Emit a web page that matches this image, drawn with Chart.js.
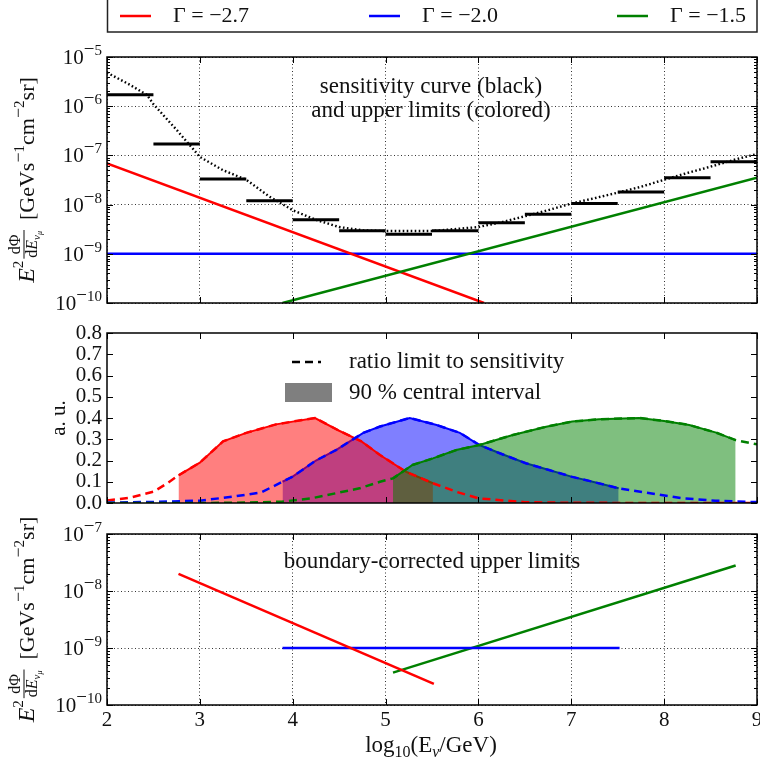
<!DOCTYPE html>
<html><head><meta charset="utf-8">
<script src="https://cdn.jsdelivr.net/npm/chart.js@4.4.1/dist/chart.umd.min.js"></script>
<style>
html,body{margin:0;padding:0;background:#fff;}
#wrap{position:relative;width:760px;height:765px;overflow:hidden;background:#fff;}
#wrap canvas{position:absolute;left:0;top:0;}
</style></head><body>
<div id="wrap">
<canvas id="c1" width="760" height="765" style="width:760px;height:765px"></canvas>
<canvas id="c2" width="760" height="765" style="width:760px;height:765px"></canvas>
<canvas id="c3" width="760" height="765" style="width:760px;height:765px"></canvas>
</div>
<script>
// ---------------- data ----------------
const xTickValues = [2, 3, 4, 5, 6, 7, 8, 9];
const fluxTicksTop = [1e-10, 1e-9, 1e-8, 1e-7, 1e-6, 1e-5];
const fluxTicksBottom = [1e-10, 1e-9, 1e-8, 1e-7];
const auTicks = [0, 0.1, 0.2, 0.3, 0.4, 0.5, 0.6, 0.7, 0.8];

const seriesNames = ['Γ = −2.7', 'Γ = −2.0', 'Γ = −1.5'];
const seriesColors = ['#ff0000', '#0000ff', '#008000'];
const seriesFills = ['rgba(255,0,0,0.5)', 'rgba(0,0,255,0.5)', 'rgba(0,128,0,0.5)'];

// panel 1: binned sensitivity (black steps) and sensitivity curve (dotted)
const binEdges = [2, 2.5, 3, 3.5, 4, 4.5, 5, 5.5, 6, 6.5, 7, 7.5, 8, 8.5, 9];
const binSensitivity = [1.7e-6, 1.7e-7, 3.3e-8, 1.2e-8, 4.9e-9, 2.95e-9, 2.5e-9, 2.95e-9, 4.3e-9, 6.4e-9, 1.05e-8, 1.8e-8, 3.5e-8, 7.4e-8];
const sensCurveX = [2, 2.25, 2.43, 2.5, 2.75, 3, 3.25, 3.5, 3.75, 4, 4.25, 4.5, 4.75, 5, 5.5, 6, 6.25, 6.5, 6.75, 7, 7.25, 7.5, 7.75, 8, 8.25, 8.5, 8.75, 9];
const sensCurveY = [4.8e-6, 2.7e-6, 1.7e-6, 1.1e-6, 3.3e-7, 9.3e-8, 5.0e-8, 3.2e-8, 1.45e-8, 7.7e-9, 4.9e-9, 3.5e-9, 3.0e-9, 2.9e-9, 2.9e-9, 3.5e-9, 4.4e-9, 5.8e-9, 7.7e-9, 1.05e-8, 1.35e-8, 1.75e-8, 2.3e-8, 3.2e-8, 4.4e-8, 5.9e-8, 8.1e-8, 1.07e-7];

// panel 1: upper limits
const ulRedX = [2, 6.06],   ulRedY = [6.9e-8, 1e-10];
const ulBlueX = [2, 9],     ulBlueY = [1e-9, 1e-9];
const ulGreenX = [3.89, 9], ulGreenY = [1e-10, 3.5e-8];

// panel 2: ratio limit to sensitivity
const ratioRedX = [2, 2.25, 2.5, 2.64, 2.77, 3, 3.25, 3.5, 3.82, 4, 4.24, 4.5, 4.74, 4.94, 5.22, 5.51, 5.76, 6, 6.5, 7, 8, 9];
const ratioRedY = [0.012, 0.025, 0.053, 0.09, 0.13, 0.19, 0.29, 0.33, 0.37, 0.383, 0.40, 0.34, 0.29, 0.226, 0.147, 0.093, 0.053, 0.022, 0.004, 0.001, 0, 0];
const ratioBlueX = [2, 2.5, 3, 3.36, 3.66, 3.89, 4, 4.25, 4.47, 4.76, 4.94, 5.26, 5.55, 5.8, 6.01, 6.23, 6.51, 6.76, 7.0, 7.23, 7.51, 7.8, 8.2, 8.55, 8.9, 9];
const ratioBlueY = [0.002, 0.005, 0.011, 0.03, 0.05, 0.1, 0.124, 0.2, 0.25, 0.33, 0.36, 0.40, 0.367, 0.33, 0.273, 0.234, 0.187, 0.155, 0.124, 0.1, 0.069, 0.049, 0.022, 0.011, 0.005, 0.005];
const ratioGreenX = [2, 3, 3.5, 3.88, 4.2, 4.72, 4.94, 5.08, 5.29, 5.51, 5.76, 6.01, 6.37, 6.73, 7.01, 7.3, 7.73, 8.0, 8.27, 8.56, 8.77, 9];
const ratioGreenY = [0, 0, 0.002, 0.006, 0.022, 0.069, 0.1, 0.116, 0.179, 0.21, 0.249, 0.273, 0.32, 0.359, 0.383, 0.394, 0.40, 0.386, 0.367, 0.331, 0.296, 0.276];
// 90 % central intervals (log10 E)
const intervalLo = [2.77, 3.89, 5.08];
const intervalHi = [5.51, 7.51, 8.77];

// panel 3: boundary-corrected upper limits
const bcRedX = [2.77, 5.52],   bcRedY = [2.0e-8, 2.35e-10];
const bcBlueX = [3.89, 7.52],  bcBlueY = [1e-9, 1e-9];
const bcGreenX = [5.08, 8.77], bcGreenY = [3.7e-10, 2.8e-8];

// ---------------- helpers ----------------
const FONT = '"Liberation Serif", "Times New Roman", serif';
const TXT = '#111';
const pts = (xs, ys) => xs.map((x, i) => ({x: x, y: ys[i]}));

function setFont(ctx, s) { ctx.font = (s.italic ? 'italic ' : '') + s.size + 'px ' + FONT; }
function segsWidth(ctx, segs) {
  let w = 0;
  for (const s of segs) {
    if (s.gap) { w += s.gap; continue; }
    if (s.frac) { w += Math.max(segsWidth(ctx, s.num), segsWidth(ctx, s.den)) + 2; continue; }
    setFont(ctx, s); w += ctx.measureText(s.t).width;
  }
  return w;
}
function drawSegs(ctx, segs, x0, y0) {
  let x = x0;
  for (const s of segs) {
    if (s.gap) { x += s.gap; continue; }
    if (s.frac) {
      const wn = segsWidth(ctx, s.num), wd = segsWidth(ctx, s.den), w = Math.max(wn, wd) + 2;
      drawSegs(ctx, s.num, x + (w - wn) / 2, y0 + s.numDy);
      drawSegs(ctx, s.den, x + (w - wd) / 2, y0 + s.denDy);
      ctx.fillRect(x, y0 + s.barDy - 0.5, w, 1);
      x += w; continue;
    }
    setFont(ctx, s); ctx.fillText(s.t, x, y0 + (s.dy || 0));
    x += ctx.measureText(s.t).width;
  }
}
// align: 'center' | 'right'
function drawRich(ctx, segs, cx, by, rotate, align) {
  ctx.save();
  ctx.fillStyle = TXT; ctx.textAlign = 'left'; ctx.textBaseline = 'alphabetic';
  ctx.translate(cx, by);
  if (rotate) ctx.rotate(-Math.PI / 2);
  const w = segsWidth(ctx, segs);
  drawSegs(ctx, segs, align === 'right' ? -w : -w / 2, 0);
  ctx.restore();
}
function powSegs(v) {
  const e = Math.round(Math.log10(v));
  const segs = [{t: '10', size: 21}];
  if (e < 0) segs.push({t: '−', size: 19, dy: -9});
  segs.push({t: String(Math.abs(e)), size: 15, dy: -9});
  return segs;
}
const fluxLabelSegs = [
  {t: 'E', size: 24, italic: true},
  {t: '2', size: 15, dy: -11},
  {gap: 2},
  {frac: true, num: [{t: 'dΦ', size: 16}],
   den: [{t: 'd', size: 16}, {t: 'E', size: 16, italic: true}, {t: 'ν', size: 11, italic: true, dy: 3}, {t: 'μ', size: 8, italic: true, dy: 5}],
   barDy: -10, numDy: -14, denDy: 3},
  {gap: 10},
  {t: '[GeVs', size: 22}, {t: '−', size: 18, dy: -10}, {t: '1', size: 15, dy: -10},
  {t: 'cm', size: 22}, {t: '−', size: 18, dy: -10}, {t: '2', size: 15, dy: -10},
  {t: 'sr]', size: 22}
];
const xTitleSegs = [
  {t: 'log', size: 23}, {t: '10', size: 16, dy: 5}, {t: '(E', size: 23},
  {t: 'ν', size: 16, italic: true, dy: 5}, {t: '/GeV)', size: 23}
];

function framePlugin(yMajor, logY) {
  return {
    id: 'frameTicks',
    afterDraw(chart) {
      const {ctx, chartArea: a, scales} = chart;
      const sx = scales.x, sy = scales.y;
      ctx.save();
      ctx.strokeStyle = '#000'; ctx.lineWidth = 1;
      ctx.beginPath();
      const L = 6, m = 3;
      xTickValues.forEach(v => {
        const p = Math.round(sx.getPixelForValue(v)) + 0.5;
        ctx.moveTo(p, a.bottom); ctx.lineTo(p, a.bottom - L);
        ctx.moveTo(p, a.top); ctx.lineTo(p, a.top + L);
      });
      yMajor.forEach(v => {
        const p = Math.round(sy.getPixelForValue(v)) + 0.5;
        ctx.moveTo(a.left, p); ctx.lineTo(a.left + L, p);
        ctx.moveTo(a.right, p); ctx.lineTo(a.right - L, p);
      });
      if (logY) {
        for (let i = 0; i < yMajor.length - 1; i++) {
          for (let k = 2; k <= 9; k++) {
            const p = Math.round(sy.getPixelForValue(yMajor[i] * k)) + 0.5;
            ctx.moveTo(a.left, p); ctx.lineTo(a.left + m, p);
            ctx.moveTo(a.right, p); ctx.lineTo(a.right - m, p);
          }
        }
        // power-of-ten tick labels placed by the y scale
        yMajor.forEach(v => {
          drawRich(ctx, powSegs(v), a.left - 5, sy.getPixelForValue(v) + 7, false, 'right');
        });
      }
      ctx.stroke();
      ctx.lineWidth = 1.5;
      ctx.strokeRect(a.left, a.top, a.right - a.left, a.bottom - a.top);
      ctx.restore();
    }
  };
}

function baseOptions(padding, showXTicks, grid, yScale) {
  return {
    responsive: false, animation: false, devicePixelRatio: 1, events: [],
    layout: {padding: padding},
    plugins: {legend: {display: false}, tooltip: {enabled: false}},
    elements: {point: {radius: 0}, line: {tension: 0}},
    scales: {
      x: {
        type: 'linear', min: 2, max: 9,
        afterBuildTicks: s => { s.ticks = xTickValues.map(v => ({value: v})); },
        afterFit: s => { s.height = showXTicks ? 30 : 0; s.paddingLeft = 0; s.paddingRight = 0; },
        ticks: {display: showXTicks, autoSkip: false, maxRotation: 0, padding: 3, color: TXT,
                font: {family: FONT, size: 21}},
        grid: {display: grid, drawTicks: false, color: '#000', lineWidth: 0.8},
        border: {display: false, dash: [1, 2.5]}
      },
      y: Object.assign({
        afterFit: s => { s.width = 107; s.paddingTop = 0; s.paddingBottom = 0; },
        grid: {display: grid, drawTicks: false, color: '#000', lineWidth: 0.8},
        border: {display: false, dash: [1, 2.5]}
      }, yScale)
    }
  };
}
function logY(min, max, ticks) {
  return {
    type: 'logarithmic', min: min, max: max,
    afterBuildTicks: s => { s.ticks = ticks.map(v => ({value: v, major: true})); },
    ticks: {display: false, autoSkip: false}
  };
}
const line = (data, color, width, extra) => Object.assign({
  data: data, borderColor: color, borderWidth: width, pointRadius: 0, fill: false,
  borderCapStyle: 'butt', spanGaps: false
}, extra || {});

// ---------------- chart 1 ----------------
const binData = [];
for (let i = 0; i < binSensitivity.length; i++) {
  binData.push({x: binEdges[i], y: binSensitivity[i]}, {x: binEdges[i + 1], y: binSensitivity[i]}, {x: binEdges[i + 1], y: null});
}
new Chart(document.getElementById('c1'), {
  type: 'line',
  data: {datasets: [
    line(pts(ulRedX, ulRedY), seriesColors[0], 2.5, {label: seriesNames[0], order: 1}),
    line(pts(ulBlueX, ulBlueY), seriesColors[1], 2.5, {label: seriesNames[1], order: 2}),
    line(pts(ulGreenX, ulGreenY), seriesColors[2], 2.5, {label: seriesNames[2], order: 0}),
    line(binData, '#000', 3, {label: 'binned sensitivity', order: 3}),
    line(pts(sensCurveX, sensCurveY), '#000', 2.4, {label: 'sensitivity curve', borderDash: [1.6, 2.4], order: 4})
  ]},
  options: baseOptions({left: 0, right: 3, top: 57, bottom: 462}, false, true, logY(1e-10, 1e-5, fluxTicksTop)),
  plugins: [framePlugin(fluxTicksTop, true), {
    id: 'texts1',
    afterDraw(chart) {
      const ctx = chart.ctx;
      ctx.save();
      // top legend box
      ctx.strokeStyle = '#222'; ctx.lineWidth = 1.5;
      ctx.strokeRect(107.5, -3, 649.5, 35);
      const lx = [120, 369, 617];
      ctx.font = '22px ' + FONT; ctx.fillStyle = TXT; ctx.textBaseline = 'middle'; ctx.textAlign = 'left';
      seriesNames.forEach((n, i) => {
        ctx.strokeStyle = seriesColors[i]; ctx.lineWidth = 2.5;
        ctx.beginPath(); ctx.moveTo(lx[i], 16); ctx.lineTo(lx[i] + 31, 16); ctx.stroke();
        ctx.fillText(n, lx[i] + 53, 16);
      });
      ctx.font = '23px ' + FONT; ctx.textAlign = 'center';
      ctx.fillText('sensitivity curve (black)', 431, 87);
      ctx.fillText('and upper limits (colored)', 431, 111);
      ctx.restore();
      drawRich(ctx, fluxLabelSegs, 34, (chart.chartArea.top + chart.chartArea.bottom) / 2, true);
    }
  }]
});

// ---------------- chart 2 ----------------
const ratioX = [ratioRedX, ratioBlueX, ratioGreenX];
const ratioY = [ratioRedY, ratioBlueY, ratioGreenY];
const fillOrder = [5, 6, 4];
const ds2 = [];
for (let i = 0; i < 3; i++) {
  const all = pts(ratioX[i], ratioY[i]);
  ds2.push(line(all, seriesColors[i], 2.5, {label: seriesNames[i] + ' ratio', borderDash: [8, 5], order: 3 - i}));
  ds2.push(line(all.filter(p => p.x >= intervalLo[i] && p.x <= intervalHi[i]), seriesColors[i], 2,
    {label: seriesNames[i] + ' 90%', fill: 'origin', backgroundColor: seriesFills[i], order: fillOrder[i]}));
}
const o2 = baseOptions({left: 0, right: 3, top: 333, bottom: 262}, false, false, {
  type: 'linear', min: 0, max: 0.8,
  afterBuildTicks: s => { s.ticks = auTicks.map(v => ({value: v})); },
  ticks: {autoSkip: false, padding: 5, color: TXT, font: {family: FONT, size: 21}, callback: v => v.toFixed(1)}
});
new Chart(document.getElementById('c2'), {
  type: 'line',
  data: {datasets: ds2},
  options: o2,
  plugins: [framePlugin(auTicks, false), {
    id: 'texts2',
    afterDraw(chart) {
      const ctx = chart.ctx;
      ctx.save();
      ctx.strokeStyle = '#000'; ctx.lineWidth = 2.5; ctx.setLineDash([8, 5]);
      ctx.beginPath(); ctx.moveTo(292, 362); ctx.lineTo(321, 362); ctx.stroke();
      ctx.setLineDash([]);
      ctx.fillStyle = 'rgba(0,0,0,0.5)'; ctx.fillRect(285, 383, 47, 19);
      ctx.fillStyle = TXT; ctx.font = '23px ' + FONT; ctx.textBaseline = 'middle'; ctx.textAlign = 'left';
      ctx.fillText('ratio limit to sensitivity', 349, 362);
      ctx.fillText('90 % central interval', 349, 393);
      ctx.restore();
      drawRich(ctx, [{t: 'a. u.', size: 21}], 65, (chart.chartArea.top + chart.chartArea.bottom) / 2, true);
    }
  }]
});

// ---------------- chart 3 ----------------
new Chart(document.getElementById('c3'), {
  type: 'line',
  data: {datasets: [
    line(pts(bcRedX, bcRedY), seriesColors[0], 2.5, {label: seriesNames[0]}),
    line(pts(bcBlueX, bcBlueY), seriesColors[1], 2.5, {label: seriesNames[1]}),
    line(pts(bcGreenX, bcGreenY), seriesColors[2], 2.5, {label: seriesNames[2]})
  ]},
  options: baseOptions({left: 0, right: 3, top: 534, bottom: 30}, true, true, logY(1e-10, 1e-7, fluxTicksBottom)),
  plugins: [framePlugin(fluxTicksBottom, true), {
    id: 'texts3',
    afterDraw(chart) {
      const ctx = chart.ctx;
      ctx.save();
      ctx.fillStyle = TXT; ctx.font = '23px ' + FONT; ctx.textBaseline = 'middle'; ctx.textAlign = 'center';
      ctx.fillText('boundary-corrected upper limits', 432, 562);
      ctx.restore();
      drawRich(ctx, fluxLabelSegs, 34, (chart.chartArea.top + chart.chartArea.bottom) / 2, true);
      drawRich(ctx, xTitleSegs, 431, 752, false);
    }
  }]
});
</script>
</body></html>
